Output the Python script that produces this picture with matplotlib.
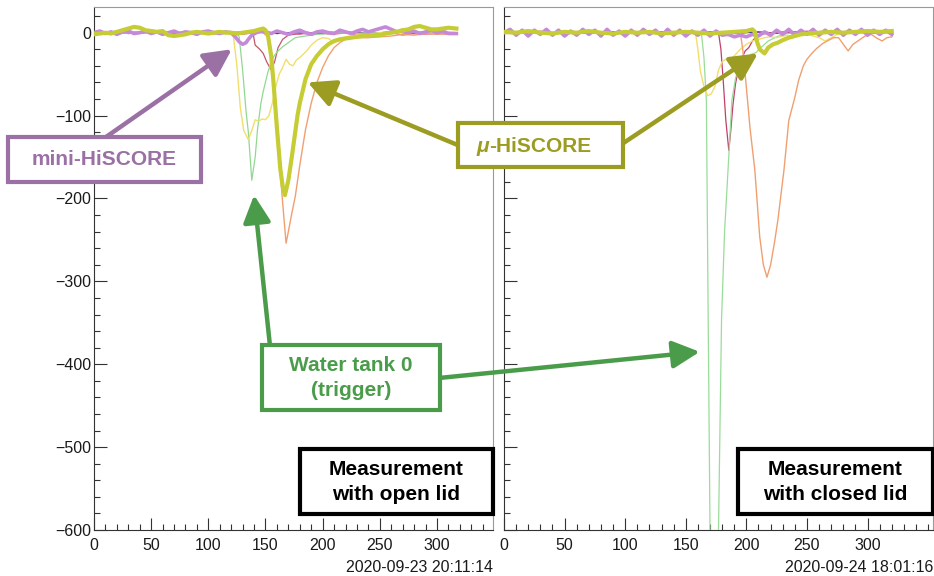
import matplotlib
matplotlib.use('Agg')
import matplotlib.pyplot as plt
from matplotlib.patches import Rectangle
from matplotlib.ticker import MultipleLocator

plt.rcParams['font.family'] = ['Liberation Sans', 'DejaVu Sans']

# ---- waveforms, (time, amplitude) ----
# measurement with open lid
open_purple = [(0, 0), (5, 2), (10, -1), (15, 1), (20, -2), (25, 1), (30, 2), (35, -1), (40, 0), (45, 2),
               (50, -1), (55, 1), (60, -2), (65, 0), (70, 2), (75, -1), (80, 1), (85, 0), (90, -2), (95, 1),
               (100, 2), (105, 0), (110, -1), (115, 1), (120, 0), (123, -4), (127, -11), (130, -14), (133, -12),
               (135, -8), (138, -3), (142, 0), (145, 2), (150, 1), (155, -1), (160, 2), (165, 0), (170, -2),
               (175, 1), (180, 3), (185, 0), (190, -2), (195, 1), (200, 2), (205, 0), (210, -1), (215, 3),
               (220, 1), (225, -1), (230, 2), (235, 4), (240, 1), (245, 3), (250, 5), (255, 7), (260, 4),
               (265, 1), (270, 3), (275, 0), (280, 2), (285, -1), (290, 1), (295, 3), (300, 0), (305, 2),
               (310, -1), (317, -1)]
open_olive = [(0, -2), (5, -1), (10, 0), (15, -1), (20, 1), (25, 3), (30, 5), (35, 7), (40, 6), (45, 3),
              (50, 2), (55, 1), (60, 2), (65, -3), (70, -4), (75, -3), (80, -2), (85, 0), (90, 1), (95, 0),
              (100, -1), (105, 0), (110, 1), (115, 0), (120, 0), (125, -1), (130, 0), (135, 1), (140, 2),
              (145, 4), (148, 5), (150, 3), (152, -2), (155, -28), (157, -60), (160, -115), (163, -165),
              (165, -185), (167, -196), (170, -178), (173, -150), (175, -130), (178, -100), (180, -85),
              (185, -56), (190, -38), (195, -28), (200, -20), (205, -14), (210, -10), (215, -8), (220, -7),
              (225, -6), (230, -5), (235, -4), (240, -4), (245, -3), (250, -3), (255, -1), (260, 0), (265, 1),
              (270, 3), (275, 4), (280, 7), (285, 8), (290, 6), (295, 4), (300, 4), (305, 5), (310, 6), (317, 5)]
open_navy = [(0, 0), (10, -1), (20, 0), (30, 1), (40, 0), (50, -1), (60, 0), (70, 1), (80, -1), (90, 0),
             (100, 1), (110, 0), (120, -1), (130, 0), (140, 1), (150, 0), (160, -1), (170, 0), (180, 1),
             (190, 0), (200, -1), (210, 0), (220, 1), (230, 0), (240, -1), (250, 0), (260, 1), (270, 0),
             (280, -1), (290, 0), (300, 1), (310, 0), (317, 0)]
open_pink = [(0, 1), (10, 0), (20, 2), (30, -1), (40, 1), (50, 0), (60, 2), (70, -1), (80, 0), (90, 1),
             (100, -1), (110, 2), (120, 0), (130, -2), (140, 0), (150, 1), (160, -1), (170, 0), (180, -2),
             (190, 0), (200, -1), (210, -2), (220, 0), (230, -3), (240, -1), (250, -2), (260, 0), (270, -3),
             (280, -1), (290, -2), (300, -1), (310, -2), (317, -1)]
open_orange = [(0, 1), (10, 0), (20, -1), (30, 0), (40, 1), (50, 0), (60, -1), (70, 0), (80, 1), (90, 0),
               (100, -1), (110, 0), (120, 1), (130, 0), (140, -1), (148, 0), (152, -5), (155, -30), (158, -75),
               (160, -117), (163, -170), (165, -205), (168, -254), (170, -240), (173, -218), (176, -198),
               (180, -160), (185, -117), (190, -85), (195, -60), (200, -42), (205, -28), (210, -18), (215, -12),
               (220, -8), (225, -7), (230, -6), (240, -6), (250, -5), (260, -4), (270, -2), (280, -3),
               (290, -1), (300, -2), (310, -1), (317, -2)]
open_yellow = [(0, 0), (10, 1), (20, -1), (30, 0), (40, 1), (50, -1), (60, 0), (70, 1), (80, 0), (90, -1),
               (100, 0), (110, 1), (118, 0), (122, -5), (125, -40), (128, -91), (131, -118), (135, -129),
               (138, -118), (141, -105), (144, -107), (147, -104), (150, -105), (153, -100), (156, -85),
               (159, -65), (162, -50), (165, -42), (168, -32), (171, -38), (174, -40), (177, -33), (180, -30),
               (183, -26), (186, -22), (190, -15), (195, -9), (200, -6), (205, -7), (210, -12), (215, -8),
               (220, -5), (230, -3), (240, -2), (250, 0), (260, -1), (270, 1), (280, 0), (290, -1), (300, 0),
               (310, 1), (317, 0)]
open_green = [(0, 0), (10, -1), (20, 0), (30, 1), (40, 0), (50, -1), (60, 0), (70, 1), (80, 0), (90, -1),
              (100, 0), (110, 1), (120, 0), (125, -1), (127, -5), (130, -45), (133, -95), (135, -120),
              (138, -178), (141, -150), (143, -117), (146, -85), (148, -71), (152, -48), (155, -35), (158, -27),
              (161, -22), (165, -17), (170, -12), (176, -6), (185, -4), (195, -2), (205, -1), (215, 0),
              (230, -1), (250, 0), (270, 1), (290, 0), (310, -1), (317, 0)]
open_red = [(0, 0), (10, 1), (20, 0), (30, -1), (40, 0), (50, 1), (60, 0), (70, -1), (80, 0), (90, 1),
            (100, 0), (110, -1), (120, 0), (130, 1), (139, 0), (141, -15), (145, -20), (148, -25), (151, -35),
            (155, -45), (158, -35), (161, -18), (165, -8), (170, -3), (180, -1), (190, 0), (200, 1), (220, 0),
            (240, -1), (260, 0), (280, 1), (300, 0), (317, 0)]

# measurement with closed lid
closed_purple = [(0, 0), (5, 4), (10, -3), (15, 3), (20, -4), (25, 3), (30, -2), (35, 4), (40, -3), (45, 3),
                 (50, -4), (55, 2), (60, -3), (65, 4), (70, -2), (75, 3), (80, -4), (85, 4), (90, -3), (95, 2),
                 (100, -4), (105, 3), (110, -3), (115, 4), (120, -2), (125, 3), (130, -4), (135, 4), (140, -3),
                 (145, 3), (150, -4), (155, 2), (160, -3), (165, 3), (170, -4), (175, 2), (180, -3), (185, -2),
                 (190, -5), (195, -3), (200, -5), (205, -2), (210, -4), (215, 1), (220, -3), (225, 3), (230, -2),
                 (235, 4), (240, -3), (245, 3), (250, -2), (255, 4), (260, -3), (265, 3), (270, -2), (275, 4),
                 (280, -3), (285, 3), (290, -2), (295, 4), (300, -3), (305, 3), (310, -2), (315, 3), (320, -2)]
closed_olive = [(0, 1), (10, 0), (20, 2), (30, 0), (40, -1), (50, 1), (60, 0), (70, 2), (80, 0), (90, -1),
                (100, 1), (110, 0), (120, 1), (130, -1), (140, 0), (150, 1), (160, 0), (170, -1), (180, 0),
                (190, 1), (200, 2), (205, 4), (207, 1), (209, -12), (211, -20), (215, -25), (218, -18),
                (222, -14), (226, -12), (230, -9), (235, -6), (240, -4), (245, -2), (250, -1), (260, 0),
                (270, 1), (280, 0), (290, 1), (300, 2), (310, 1), (320, 2)]
closed_navy = [(0, 0), (10, 1), (20, 0), (30, -1), (40, 0), (50, 1), (60, 0), (70, -1), (80, 0), (90, 1),
               (100, 0), (110, -1), (120, 0), (130, 1), (140, 0), (150, -1), (160, 0), (170, 1), (180, 0),
               (190, -1), (200, 0), (210, 1), (220, 0), (230, -1), (240, 0), (250, 1), (260, 0), (270, -1),
               (280, 0), (290, 1), (300, 0), (310, -1), (320, 0)]
closed_pink = [(0, -1), (10, 1), (20, 0), (30, 2), (40, -1), (50, 1), (60, 0), (70, 2), (80, -1), (90, 0),
               (100, 1), (110, -1), (120, 2), (130, 0), (140, 1), (150, -1), (160, 0), (170, 1), (180, -1),
               (190, 0), (200, 2), (210, 0), (220, -1), (230, 1), (240, 0), (250, 2), (260, -1), (270, 0),
               (280, 1), (290, -1), (300, 0), (310, 1), (320, 0)]
closed_yellow = [(0, 0), (10, 1), (20, -1), (30, 0), (40, 1), (50, 0), (60, -1), (70, 1), (80, 0), (90, -1),
                 (100, 0), (110, 1), (120, 0), (130, -1), (140, 1), (150, 0), (158, 0), (160, -20), (162, -46),
                 (165, -65), (168, -76), (171, -74), (174, -65), (177, -45), (180, -35), (183, -32), (186, -34),
                 (190, -28), (195, -20), (200, -14), (205, -10), (210, -8), (215, -6), (220, -5), (225, -6),
                 (230, -4), (240, -3), (250, -2), (260, -6), (265, -10), (270, -6), (275, -2), (285, 0),
                 (295, -1), (305, 0), (320, -1)]
closed_green = [(0, 0), (10, -1), (20, 0), (30, 1), (40, 0), (50, -1), (60, 0), (70, 1), (80, 0), (90, -1),
                (100, 0), (110, 1), (120, 0), (130, -1), (140, 0), (150, 1), (160, 0), (163, -2), (165, -30),
                (167, -82), (168.5, -347), (170, -600), (172, -820), (174, -900), (176, -780), (177, -600),
                (179.5, -347), (182, -240), (185, -162), (188, -82), (191, -55), (194, -42), (199, -32),
                (204, -26), (208, -24), (212, -18), (218, -10), (225, -5), (230, -2), (240, 0), (260, -1),
                (280, 0), (300, 1), (320, 0)]
closed_red = [(0, 0), (10, 1), (20, 0), (30, -1), (40, 0), (50, 1), (60, 0), (70, -1), (80, 0), (90, 1),
              (100, 0), (110, -1), (120, 0), (130, 1), (140, 0), (150, -1), (160, 0), (170, 1), (177, 0),
              (179, -20), (181, -60), (183, -105), (185.5, -142), (187, -120), (189, -86), (191, -62),
              (193, -46), (196, -32), (199, -22), (202, -18), (205, -10), (208, -5), (212, -2), (220, 0),
              (240, 1), (260, 0), (280, -1), (300, 0), (320, 0)]
closed_orange = [(0, -1), (10, 0), (20, 1), (30, 0), (40, -1), (50, 0), (60, 1), (70, 0), (80, -1), (90, 0),
                 (100, 1), (110, 0), (120, -1), (130, 0), (140, 1), (150, 0), (160, -1), (170, 0), (180, 1),
                 (190, 0), (195, 0), (197, -20), (200, -66), (203, -115), (207, -166), (211, -246), (214, -280),
                 (217, -295), (220, -280), (223, -255), (226, -226), (229, -190), (231, -166), (235, -106),
                 (240, -78), (243, -58), (247, -40), (250, -32), (254, -25), (258, -19), (263, -13), (268, -9),
                 (272, -6), (276, -6), (280, -14), (284, -22), (288, -14), (293, -9), (298, -4), (303, -2),
                 (307, -6), (312, -10), (316, -6), (320, -5)]

y_ticks = [0, -100, -200, -300, -400, -500, -600]
x_ticks = [0, 50, 100, 150, 200, 250, 300]
timestamps = ['2020-09-23 20:11:14', '2020-09-24 18:01:16']

W, H = 934, 576
fig = plt.figure(figsize=(W / 100, H / 100), dpi=100)


def add_axes_px(x0, y0, x1, y1):
    # pixel box given with image y pointing down
    return fig.add_axes([x0 / W, 1 - y1 / H, (x1 - x0) / W, (y1 - y0) / H])


ax_open = add_axes_px(94, 7, 493, 530)
ax_closed = add_axes_px(504, 7, 933, 530)

# (trace, colour, linewidth, zorder)
open_traces = [(open_pink, '#e870b0', 0.9, 2), (open_navy, '#3434a8', 0.9, 3), (open_red, '#c2566c', 0.9, 3),
               (open_green, '#92d892', 0.9, 3), (open_yellow, '#f2de6c', 1.0, 3), (open_orange, '#f0a070', 1.0, 3),
               (open_purple, '#c48ad8', 2.6, 4), (open_olive, '#c6cc34', 3.0, 5)]
closed_traces = [(closed_pink, '#e870b0', 0.9, 2), (closed_navy, '#3434a8', 0.9, 3),
                 (closed_red, '#c0406a', 0.9, 3), (closed_green, '#9adc9a', 0.9, 3),
                 (closed_yellow, '#f2de6c', 1.0, 3), (closed_orange, '#f0a070', 1.0, 3),
                 (closed_purple, '#c48ad8', 2.6, 4), (closed_olive, '#c6cc34', 3.0, 5)]

for ax, traces, xmax in [(ax_open, open_traces, 349), (ax_closed, closed_traces, 354)]:
    for trace, color, lw, z in traces:
        t, v = zip(*trace)
        ax.plot(t, v, color=color, lw=lw, zorder=z, solid_joinstyle='round')
    ax.set_xlim(0, xmax)
    ax.set_ylim(-600, 31)
    ax.set_xticks(x_ticks)
    ax.set_yticks(y_ticks)
    ax.xaxis.set_minor_locator(MultipleLocator(10))
    ax.yaxis.set_minor_locator(MultipleLocator(20))
    ax.tick_params(which='both', direction='in', color='#333333', width=0.8,
                   top=False, right=False, labelsize=11.5, labelcolor='#1a1a1a')
    ax.tick_params(which='major', length=9)
    ax.tick_params(which='minor', length=4.5)
    ax.tick_params(axis='x', pad=6)
    ax.tick_params(axis='y', pad=2)
    for side in ['left', 'bottom']:
        ax.spines[side].set_color('#333333')
    for side in ['top', 'right']:
        ax.spines[side].set_color('#9a9a9a')

ax_closed.set_yticklabels([])

fig.text(493 / W, 9 / H, timestamps[0], ha='right', va='center', fontsize=11.5, color='#1a1a1a')
fig.text(933 / W, 9 / H, timestamps[1], ha='right', va='center', fontsize=11.5, color='#1a1a1a')


def label_box(x0, y0, w, h, color):
    # box in image pixels (y down)
    fig.add_artist(Rectangle((x0 / W, 1 - (y0 + h) / H), w / W, h / H, transform=fig.transFigure,
                             facecolor='white', edgecolor=color, lw=3, zorder=5))


def arrow(ax, tip, tail_px, color):
    ax.annotate('', xy=tip, xycoords='data', xytext=(tail_px[0], H - tail_px[1]), textcoords='figure pixels',
                arrowprops=dict(arrowstyle='-|>,head_length=0.75,head_width=0.38', color=color, lw=3.2,
                                mutation_scale=22, shrinkA=0, shrinkB=0), zorder=10)


purple_c = '#9b70a4'
olive_c = '#9c9c22'
green_c = '#4a9c4a'

# mini-HiSCORE
arrow(ax_open, (120.5, -20), (106, 137), purple_c)
label_box(8, 137, 193, 45, purple_c)
fig.text(104 / W, 1 - 159 / H, 'mini-HiSCORE', ha='center', va='center', fontsize=15,
         fontweight='bold', color=purple_c, zorder=6)

# mu-HiSCORE
arrow(ax_open, (187, -60), (460, 146), olive_c)
arrow(ax_closed, (209.5, -25), (622, 144), olive_c)
label_box(458, 123, 165, 44, olive_c)
fig.text(489 / W, 1 - 146 / H, 'μ', ha='right', va='center', fontsize=15, fontweight='bold',
         fontstyle='italic', color=olive_c, zorder=6)
fig.text(489 / W, 1 - 146 / H, '-HiSCORE', ha='left', va='center', fontsize=15, fontweight='bold',
         color=olive_c, zorder=6)

# Water tank 0
arrow(ax_open, (140, -196), (270, 346), green_c)
arrow(ax_closed, (161.5, -385), (439, 378), green_c)
label_box(262, 345, 178, 65, green_c)
fig.text(351 / W, 1 - 378 / H, 'Water tank 0\n(trigger)', ha='center', va='center', fontsize=15,
         fontweight='bold', color=green_c, linespacing=1.35, zorder=6)

# measurement boxes
label_box(300, 449, 193, 65, 'black')
fig.text(396 / W, 1 - 482 / H, 'Measurement\nwith open lid', ha='center', va='center', fontsize=15,
         fontweight='bold', color='black', linespacing=1.35, zorder=6)
label_box(738, 449, 195, 65, 'black')
fig.text(835 / W, 1 - 482 / H, 'Measurement\nwith closed lid', ha='center', va='center', fontsize=15,
         fontweight='bold', color='black', linespacing=1.35, zorder=6)

fig.savefig('out.png', dpi=100)
